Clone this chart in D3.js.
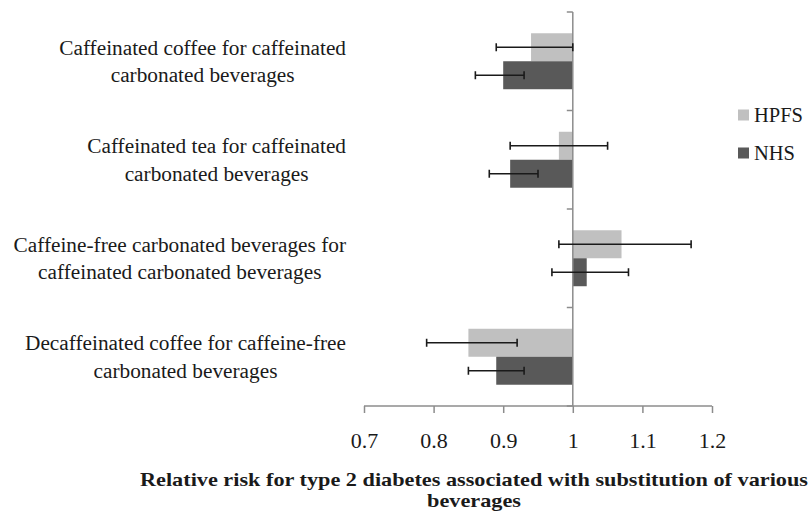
<!DOCTYPE html>
<html>
<head>
<meta charset="utf-8">
<script src="https://cdn.jsdelivr.net/npm/d3@7"></script>
<style>
  html, body { margin: 0; padding: 0; background: #fff; }
  svg { display: block; }
  svg text { font-family: "Liberation Serif", "DejaVu Serif", serif !important; fill: #1a1a1a; }
</style>
</head>
<body>
<svg id="chart" width="812" height="513"></svg>
<script>
const categories = [
  "Caffeinated coffee for caffeinated\ncarbonated beverages",
  "Caffeinated tea for caffeinated\ncarbonated beverages",
  "Caffeine-free carbonated beverages for\ncaffeinated carbonated beverages",
  "Decaffeinated coffee for caffeine-free\ncarbonated beverages"
];
const seriesNames = ["HPFS", "NHS"];
const hpfsRR    = [0.94, 0.98, 1.07, 0.85];
const hpfsLower = [0.89, 0.91, 0.98, 0.79];
const hpfsUpper = [1.00, 1.05, 1.17, 0.92];
const nhsRR     = [0.90, 0.91, 1.02, 0.89];
const nhsLower  = [0.86, 0.88, 0.97, 0.85];
const nhsUpper  = [0.93, 0.95, 1.08, 0.93];
const xTicks = [0.7, 0.8, 0.9, 1, 1.1, 1.2];
const xTitle = ["Relative risk for type 2 diabetes associated with substitution of various", "beverages"];
const colors = { HPFS: "#c0c0c0", NHS: "#595959" };

const seriesData = {
  HPFS: categories.map((c, i) => ({ cat: c, rr: hpfsRR[i], lo: hpfsLower[i], hi: hpfsUpper[i] })),
  NHS:  categories.map((c, i) => ({ cat: c, rr: nhsRR[i],  lo: nhsLower[i],  hi: nhsUpper[i] }))
};

const FONT = "'Liberation Serif', 'DejaVu Serif', serif";
const svg = d3.select("#chart");
const x = d3.scaleLinear().domain([0.7, 1.2]).range([364, 712]);
const y = d3.scaleBand().domain(categories).range([12, 406]).padding(0);
const sub = d3.scaleBand().domain(seriesNames).range([0, y.bandwidth()]).paddingInner(0).paddingOuter(0.76);
const axisColor = "#8c8c8c";

// bars
seriesNames.forEach(s => {
  const g = svg.append("g");
  g.selectAll("rect").data(seriesData[s]).join("rect")
    .attr("x", d => x(Math.min(d.rr, 1)))
    .attr("width", d => Math.abs(x(d.rr) - x(1)))
    .attr("y", d => y(d.cat) + sub(s))
    .attr("height", sub.bandwidth())
    .attr("fill", colors[s]);
});

// horizontal axis
const xAxis = d3.axisBottom(x).tickValues(xTicks).tickSize(7).tickFormat(d => d3.format("")(d));
const gx = svg.append("g").attr("transform", "translate(0,406)").call(xAxis);
gx.attr("font-family", FONT);
gx.select(".domain").attr("stroke", axisColor).attr("stroke-width", 1.5).attr("d", "M364,0H712");
gx.selectAll(".tick line").attr("stroke", axisColor).attr("stroke-width", 1.5);
gx.selectAll(".tick text").attr("font-size", 22).attr("y", 34).attr("dy", "0.35em")
  .style("font-family", FONT).attr("fill", "#1a1a1a");

// vertical axis at x = 1
const yBounds = categories.map(c => y(c)).concat([y.range()[1]]);
const gy = svg.append("g");
gy.append("line").attr("x1", x(1)).attr("x2", x(1)).attr("y1", y.range()[0]).attr("y2", y.range()[1])
  .attr("stroke", axisColor).attr("stroke-width", 1.5);
gy.selectAll("line.tk").data(yBounds).join("line").attr("class", "tk")
  .attr("x1", x(1) - 6).attr("x2", x(1)).attr("y1", d => d).attr("y2", d => d)
  .attr("stroke", axisColor).attr("stroke-width", 1.5);

// error bars
seriesNames.forEach(s => {
  const g = svg.append("g");
  seriesData[s].forEach(d => {
    const cy = y(d.cat) + sub(s) + sub.bandwidth() / 2;
    g.append("line").attr("x1", x(d.lo)).attr("x2", x(d.hi)).attr("y1", cy).attr("y2", cy)
      .attr("stroke", "#1a1a1a").attr("stroke-width", 1.4);
    [d.lo, d.hi].forEach(v => {
      g.append("line").attr("x1", x(v)).attr("x2", x(v)).attr("y1", cy - 4).attr("y2", cy + 4)
        .attr("stroke", "#1a1a1a").attr("stroke-width", 1.6);
    });
  });
});

// category labels: block right-aligned, lines centered within block
const labelRight = 346;
categories.forEach(c => {
  const lines = c.split("\n");
  const g = svg.append("g");
  const cy = y(c) + y.bandwidth() / 2;
  const texts = lines.map((ln, i) => g.append("text").text(ln).attr("font-size", 21.3)
    .style("font-family", FONT)
    .attr("text-anchor", "middle").attr("y", cy + (i - (lines.length - 1) / 2) * 27.5).attr("dy", "0.35em"));
  const w = d3.max(texts, t => t.node().getComputedTextLength());
  texts.forEach(t => t.attr("x", labelRight - w / 2));
});

// legend
const leg = svg.append("g");
seriesNames.forEach((s, i) => {
  const cy = 115 + i * 38;
  leg.append("rect").attr("x", 738).attr("y", cy - 5.5).attr("width", 11).attr("height", 11).attr("fill", colors[s]);
  leg.append("text").attr("x", 754).attr("y", cy).attr("dy", "0.35em").attr("font-size", 20.5)
    .style("font-family", FONT).text(s);
});

// axis title (condensed bold)
const titleW = 668;
const t0 = svg.append("text").attr("x", 474).attr("y", 479).attr("dy", "0.35em")
  .attr("text-anchor", "middle").attr("font-size", 19.5).attr("font-weight", "bold")
  .style("font-family", FONT).text(xTitle[0]);
const natW = t0.node().getComputedTextLength();
const ratio = titleW / natW;
t0.attr("textLength", titleW).attr("lengthAdjust", "spacingAndGlyphs");
const t1 = svg.append("text").attr("x", 474).attr("y", 500).attr("dy", "0.35em")
  .attr("text-anchor", "middle").attr("font-size", 19.5).attr("font-weight", "bold")
  .style("font-family", FONT).text(xTitle[1]);
const natW1 = t1.node().getComputedTextLength();
t1.attr("textLength", natW1 * ratio).attr("lengthAdjust", "spacingAndGlyphs");
</script>
</body>
</html>
